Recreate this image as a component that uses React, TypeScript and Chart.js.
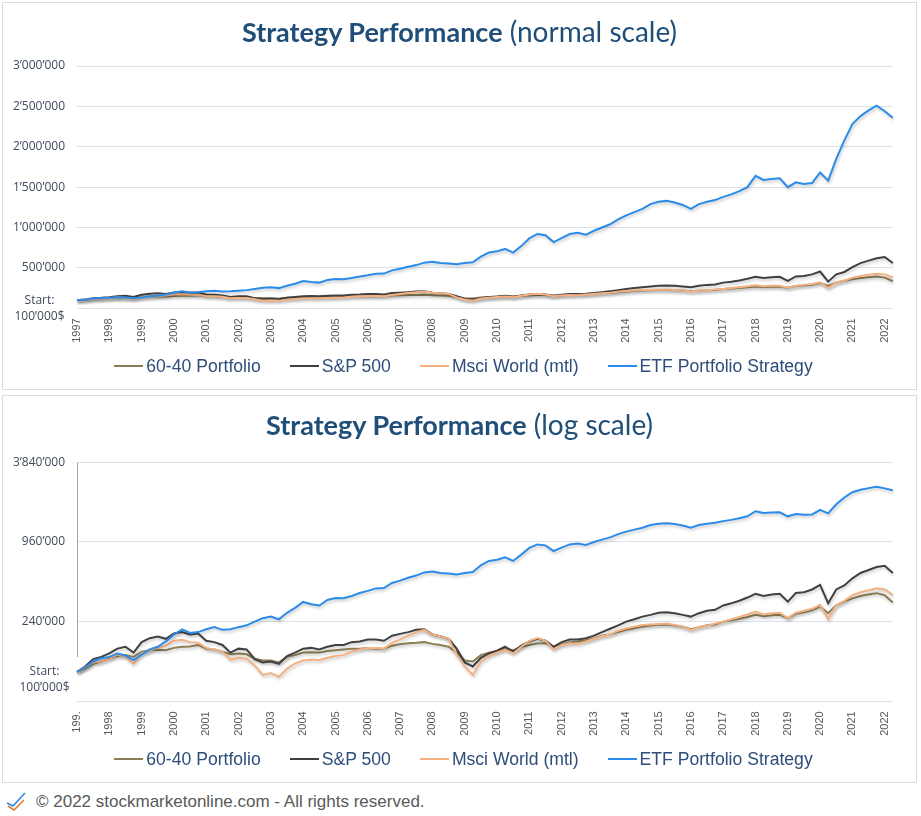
import React, { useEffect, useRef } from "react";
import { Chart, registerables } from "chart.js";

Chart.register(...registerables);

// ---------- data (values in thousands of $) ----------
const YEARS = [
  1997, 1998, 1999, 2000, 2001, 2002, 2003, 2004, 2005, 2006, 2007, 2008, 2009,
  2010, 2011, 2012, 2013, 2014, 2015, 2016, 2017, 2018, 2019, 2020, 2021, 2022,
];
const QUARTERS = ["Q1", "Q2", "Q3", "Q4"];
const PERIODS = YEARS.flatMap((y) => QUARTERS.map((q) => `${y} ${q}`)).slice(0, 102);

const PORTFOLIO_6040 = [
  100, 106, 115, 120,
  126, 132, 134, 130,
  142, 146, 147, 146,
  152, 155, 156, 160,
  150, 148, 142, 136,
  138, 136, 126, 122,
  122, 118, 130, 134,
  140, 141, 140, 144,
  146, 148, 150, 150,
  152, 150, 150, 158,
  162, 165, 166, 168,
  163, 160, 155, 140,
  122, 120, 134, 140,
  144, 150, 146, 154,
  160, 164, 165, 155,
  162, 168, 170, 174,
  180, 188, 192, 200,
  208, 214, 220, 224,
  227, 228, 224, 220,
  210, 218, 225, 228,
  240, 246, 252, 260,
  270, 264, 268, 270,
  255, 275, 282, 292,
  312, 278, 320, 340,
  360, 375, 385, 394,
  380, 335,
];

const SP500 = [
  100, 110, 125, 130,
  138, 150, 155, 140,
  168, 180, 185, 178,
  195, 200, 192, 195,
  172, 168, 160, 140,
  150, 148, 125, 118,
  120, 115, 132, 140,
  150, 152, 148, 155,
  160, 160, 168, 170,
  176, 176, 172, 188,
  194, 200, 208, 210,
  192, 186, 178, 150,
  118, 110, 128, 138,
  145, 155, 142, 158,
  170, 178, 172, 155,
  168, 176, 176, 180,
  188, 200, 212, 225,
  240, 250, 262, 270,
  280, 282, 278, 270,
  262, 278, 290, 295,
  318, 330, 345, 365,
  390, 375, 385, 390,
  340, 395, 400, 420,
  455, 330, 420, 450,
  510, 560, 590, 620,
  635, 560,
];

const MSCI_WORLD = [
  100, 108, 118, 120,
  125, 135, 130, 115,
  138, 145, 152, 158,
  172, 175, 168, 166,
  152, 148, 142, 124,
  128, 126, 112, 95,
  98, 92, 106, 116,
  122, 124, 123, 128,
  132, 134, 142, 148,
  152, 152, 150, 166,
  176, 188, 200, 208,
  192, 186, 178, 135,
  110, 95, 120, 132,
  140, 147, 138, 155,
  172, 180, 172, 148,
  160, 165, 163, 170,
  178, 186, 192, 205,
  214, 220, 226, 228,
  230, 232, 226, 220,
  208, 218, 224, 232,
  240, 250, 260, 272,
  286, 272, 278, 280,
  255, 280, 290, 300,
  321, 250, 320, 345,
  380, 400, 415, 428,
  420, 382,
];

const ETF_STRATEGY = [
  100, 108, 120, 127,
  130, 138, 133, 123,
  135, 148, 155, 170,
  192, 210, 197, 200,
  210, 218, 208, 210,
  218, 225, 240, 255,
  262, 250, 280, 305,
  338, 325, 318, 350,
  362, 360, 375, 395,
  410, 428, 430, 470,
  490, 515, 535, 565,
  575, 560, 555, 545,
  560, 570, 640, 690,
  705, 735, 690, 770,
  865, 920, 905, 820,
  870, 920, 935, 910,
  960, 1000, 1040, 1100,
  1150, 1190, 1230, 1290,
  1320, 1330, 1310, 1280,
  1230, 1290, 1320, 1340,
  1380, 1410, 1450, 1500,
  1640, 1590, 1600, 1610,
  1500, 1560, 1540, 1550,
  1680, 1580, 1850, 2080,
  2280, 2380, 2450, 2510,
  2440, 2360,
];

const LINEAR_TICKS = [0, 500, 1000, 1500, 2000, 2500, 3000];
const LOG_TICKS = [60, 240, 960, 3840];

const C6040 = "#8b7e55";
const CSP = "#404040";
const CMSCI = "#f4b183";
const CETF = "#2a8be8";

const SERIES = [
  { label: "60-40 Portfolio", data: PORTFOLIO_6040, color: C6040 },
  { label: "S&P 500", data: SP500, color: CSP },
  { label: "Msci World (mtl)", data: MSCI_WORLD, color: CMSCI },
  { label: "ETF Portfolio Strategy", data: ETF_STRATEGY, color: CETF },
];

const TICK_COLOR = "#3f4b5b";
const GRID_COLOR = "#d9e2ec";

function fmt(k: number): string {
  const v = Math.round(k * 1000);
  return String(v).replace(/\B(?=(\d{3})+(?!\d))/g, "\u2019");
}

function ChartPanel({ kind, top }: { kind: "linear" | "log"; top: number }) {
  const ref = useRef<HTMLCanvasElement | null>(null);
  const isLog = kind === "log";

  useEffect(() => {
    if (!ref.current) return;
    const shadowPlugin = {
      id: "shadow",
      beforeDatasetsDraw(chart: any) {
        const c = chart.ctx;
        c.save();
        c.shadowColor = "rgba(0,0,0,0.22)";
        c.shadowBlur = 3;
        c.shadowOffsetX = 1;
        c.shadowOffsetY = 2;
      },
      afterDatasetsDraw(chart: any) {
        chart.ctx.restore();
      },
    };
    const startPlugin = {
      id: "startLabel",
      afterDraw(chart: any) {
        const { ctx, chartArea, scales } = chart;
        const y = scales.y.getPixelForValue(100);
        ctx.save();
        if (isLog) {
          ctx.strokeStyle = "#a6a6a6";
          ctx.lineWidth = 1;
          ctx.beginPath();
          ctx.moveTo(Math.round(chartArea.left) + 0.5, chartArea.top);
          ctx.lineTo(Math.round(chartArea.left) + 0.5, y - 15);
          ctx.stroke();
        }
        ctx.fillStyle = TICK_COLOR;
        ctx.font = '12px "Open Sans"';
        ctx.textAlign = "center";
        ctx.textBaseline = "middle";
        const cx = isLog ? 41.5 : 36.5;
        ctx.fillText("Start:", cx, y);
        ctx.fillText("100\u2019000$", cx, y + 16);
        ctx.restore();
      },
    };

    const datasets = [...SERIES].reverse().map((s) => ({
      label: s.label,
      data: s.data,
      borderColor: s.color,
      backgroundColor: s.color,
      borderWidth: 2,
      pointRadius: 0,
      tension: 0,
      fill: false,
    }));

    const yScale: any = isLog
      ? {
          type: "logarithmic",
          min: 60,
          max: 3840,
          afterBuildTicks: (s: any) => {
            s.ticks = LOG_TICKS.map((v) => ({ value: v }));
          },
          ticks: {
            padding: 12,
            color: TICK_COLOR,
            font: { family: '"Open Sans"', size: 12 },
            callback: (v: any) => (v === 60 ? "" : fmt(v)),
          },
        }
      : {
          type: "linear",
          min: 0,
          max: 3000,
          afterBuildTicks: (s: any) => {
            s.ticks = LINEAR_TICKS.map((v) => ({ value: v }));
          },
          ticks: {
            padding: 12,
            color: TICK_COLOR,
            font: { family: '"Open Sans"', size: 12 },
            callback: (v: any) => (v === 0 ? "" : fmt(v)),
          },
        };
    yScale.grid = { color: GRID_COLOR, lineWidth: 1, drawTicks: false };
    yScale.border = { display: false };
    yScale.afterFit = (s: any) => {
      s.width = 74;
    };

    const chart = new Chart(ref.current, {
      type: "line",
      data: { labels: PERIODS, datasets },
      plugins: [shadowPlugin, startPlugin],
      options: {
        responsive: false,
        animation: false,
        layout: {
          padding: { top: isLog ? 66.3 : 63, right: 15.3, bottom: 35.7, left: 0 },
        },
        plugins: {
          legend: { display: false },
          tooltip: { enabled: false },
          title: { display: false },
        },
        scales: {
          x: {
            type: "category",
            grid: { display: false, drawTicks: false },
            border: { display: false },
            ticks: {
              autoSkip: false,
              minRotation: 90,
              maxRotation: 90,
              padding: 10,
              color: "#595959",
              font: { family: '"Liberation Sans", Arial, sans-serif', size: 11 },
              callback: (_v: any, i: number) => {
                const lab = PERIODS[i];
                if (!lab || !lab.endsWith("Q1")) return "";
                const yr = lab.slice(0, 4);
                if (isLog && i === 0) return "199.";
                return yr;
              },
            },
            afterFit: (s: any) => {
              s.height = 45;
            },
          } as any,
          y: yScale,
        },
      } as any,
    });
    return () => chart.destroy();
  }, [isLog]);

  return (
    <div
      style={{
        position: "absolute",
        left: 2,
        top,
        width: 913,
        height: 386,
        border: "1px solid #d5dde6",
        background: "#fff",
      }}
    >
      <canvas
        ref={ref}
        width={913}
        height={386}
        style={{ position: "absolute", left: 0, top: 0, width: 913, height: 386, display: "block" }}
      />
      <div
        style={{
          position: "absolute",
          left: 0,
          top: 12,
          width: 913,
          textAlign: "center",
          fontFamily: "Lato, sans-serif",
          fontSize: 27,
          lineHeight: "32px",
          color: "#1f4e79",
          whiteSpace: "nowrap",
        }}
      >
        <span style={{ fontWeight: 700 }}>Strategy Performance</span>
        <span style={{ fontWeight: 400, fontSize: 28 }}>{isLog ? " (log scale)" : " (normal scale)"}</span>
      </div>
      <div
        style={{
          position: "absolute",
          left: 6,
          top: 353,
          width: 909,
          height: 20,
          display: "flex",
          justifyContent: "center",
          alignItems: "center",
          gap: 29,
          fontFamily: '"Liberation Sans", Arial, sans-serif',
          fontSize: 17.6,
          lineHeight: "20px",
          color: "#2e4d7b",
          whiteSpace: "nowrap",
        }}
      >
        {SERIES.map((s) => (
          <div key={s.label} style={{ display: "flex", alignItems: "center" }}>
            <span
              style={{ display: "inline-block", width: 29, height: 2, background: s.color, marginRight: 3 }}
            />
            <span>{s.label}</span>
          </div>
        ))}
      </div>
    </div>
  );
}

export default function App() {
  return (
    <div
      style={{
        position: "absolute",
        left: 0,
        top: 0,
        width: 921,
        height: 816,
        background: "#fff",
        overflow: "hidden",
      }}
    >
      <ChartPanel kind="linear" top={2} />
      <ChartPanel kind="log" top={395} />
      <svg
        width={22}
        height={20}
        style={{ position: "absolute", left: 5, top: 791 }}
        viewBox="0 0 22 20"
      >
        <polyline points="2,12 8,15 20,2" fill="none" stroke="#2a8be8" strokeWidth={1.6} />
        <polyline points="3,15 9,19 19,9" fill="none" stroke="#e8782a" strokeWidth={1.6} />
      </svg>
      <div
        style={{
          position: "absolute",
          left: 36,
          top: 792,
          height: 20,
          lineHeight: "20px",
          fontFamily: '"Liberation Sans", Arial, sans-serif',
          fontSize: 17,
          color: "#595959",
          whiteSpace: "nowrap",
        }}
      >
        © 2022 stockmarketonline.com - All rights reserved.
      </div>
    </div>
  );
}
